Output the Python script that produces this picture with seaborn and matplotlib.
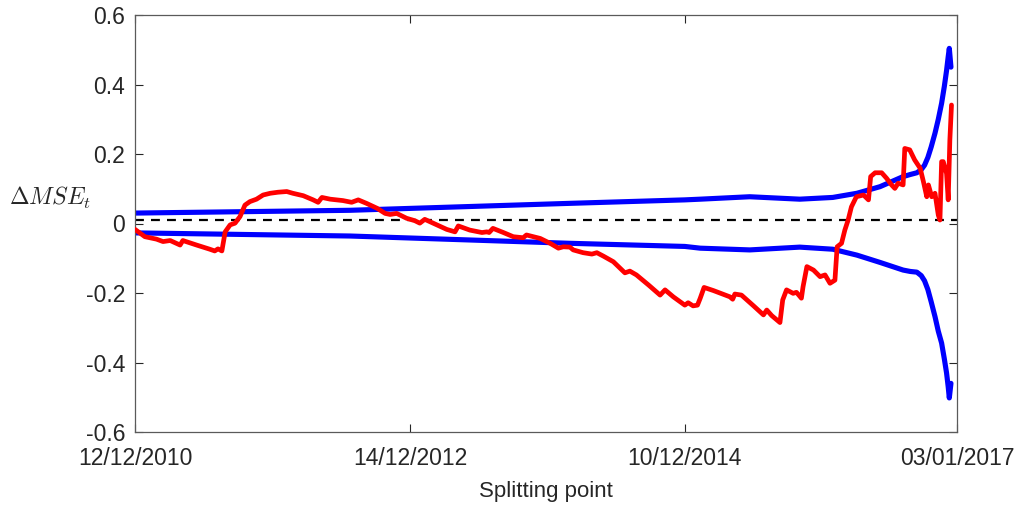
import numpy as np
import pandas as pd
import matplotlib
matplotlib.use("Agg")
import matplotlib.pyplot as plt
import seaborn as sns

# ---- data (x = observation index of the splitting point) ----
red_x = [0, 18, 39, 51, 64, 82, 87, 112, 136, 145, 151, 158, 164, 173, 182, 191, 200, 209, 221, 233,
         246, 260, 276, 287, 306, 324, 333, 340, 355, 378, 394, 406, 421, 440, 455, 464, 476, 494, 509, 518,
         527, 549, 567, 582, 588, 609, 631, 640, 644, 651, 670, 688, 706, 712, 737, 755, 770, 779, 791, 797,
         815, 831, 840, 852, 870, 891, 900, 912, 934, 955, 964, 979, 1000, 1006, 1015, 1023, 1028, 1035, 1052, 1082,
         1087, 1091, 1103, 1125, 1143, 1149, 1158, 1173, 1178, 1185, 1197, 1203, 1212, 1215, 1222, 1234, 1246, 1255, 1264, 1273,
         1277, 1285, 1291, 1297, 1303, 1312, 1325, 1334, 1338, 1346, 1358, 1367, 1376, 1382, 1388, 1397, 1400, 1409, 1418, 1428,
         1434, 1440, 1443, 1449, 1455, 1461, 1464, 1467, 1470, 1476, 1479, 1482, 1485]
red_y = [-0.017, -0.038, -0.045, -0.052, -0.049, -0.062, -0.049, -0.062, -0.074, -0.079, -0.073, -0.079, -0.024, -0.004, 0.001, 0.020, 0.053, 0.063, 0.070, 0.082,
         0.087, 0.090, 0.092, 0.087, 0.080, 0.068, 0.061, 0.075, 0.070, 0.066, 0.061, 0.068, 0.058, 0.044, 0.029, 0.026, 0.029, 0.015, 0.008, 0.001,
         0.012, -0.004, -0.017, -0.024, -0.007, -0.019, -0.026, -0.024, -0.026, -0.014, -0.026, -0.038, -0.041, -0.033, -0.043, -0.057, -0.071, -0.067, -0.068, -0.076,
         -0.084, -0.088, -0.084, -0.094, -0.110, -0.142, -0.137, -0.148, -0.177, -0.206, -0.191, -0.211, -0.235, -0.228, -0.237, -0.235, -0.215, -0.184, -0.193, -0.211,
         -0.218, -0.203, -0.206, -0.237, -0.263, -0.249, -0.265, -0.285, -0.220, -0.191, -0.201, -0.198, -0.215, -0.182, -0.124, -0.134, -0.153, -0.148, -0.172, -0.163,
         -0.067, -0.057, -0.019, 0.010, 0.048, 0.077, 0.082, 0.068, 0.135, 0.146, 0.146, 0.130, 0.111, 0.101, 0.116, 0.111, 0.216, 0.212, 0.183, 0.159,
         0.120, 0.077, 0.111, 0.077, 0.087, 0.024, 0.010, 0.178, 0.178, 0.144, 0.068, 0.240, 0.341]

band_x = [0, 391, 791, 1000, 1028, 1118, 1209, 1269, 1313, 1355, 1397, 1410, 1422, 1430, 1436, 1442, 1448, 1455, 1461,
          1467, 1472, 1476, 1479, 1481, 1484]
upper_y = [0.030, 0.038, 0.058, 0.068, 0.070, 0.077, 0.070, 0.075, 0.087, 0.106, 0.135, 0.141, 0.146, 0.155, 0.168, 0.190,
           0.220, 0.260, 0.300, 0.346, 0.395, 0.440, 0.480, 0.504, 0.450]
lower_y = [-0.027, -0.036, -0.057, -0.066, -0.071, -0.076, -0.068, -0.074, -0.091, -0.112, -0.134, -0.138, -0.140, -0.150,
           -0.165, -0.190, -0.225, -0.268, -0.310, -0.344, -0.390, -0.430, -0.470, -0.502, -0.460]

ref_level = 0.01

tick_pos = [0, 500, 1000, 1495]
tick_labels = ["12/12/2010", "14/12/2012", "10/12/2014", "03/01/2017"]
y_ticks = [-0.6, -0.4, -0.2, 0, 0.2, 0.4, 0.6]
y_tick_labels = ["-0.6", "-0.4", "-0.2", "0", "0.2", "0.4", "0.6"]

# ---- style ----
sns.set_theme(style="white")
plt.rcParams["font.family"] = ["Liberation Sans", "DejaVu Sans"]
plt.rcParams["mathtext.fontset"] = "cm"

fig = plt.figure(figsize=(10.16, 5.08), dpi=100)
ax = fig.add_axes([135 / 1016, 76 / 508, 822 / 1016, 417 / 508])

dark = "#262626"

ax.axhline(ref_level, color="black", lw=1.6, ls=(0, (4, 3.2)), zorder=1)

sns.lineplot(x=band_x, y=upper_y, ax=ax, color="#0000ff", lw=3.7, estimator=None, sort=False, zorder=2)
sns.lineplot(x=band_x, y=lower_y, ax=ax, color="#0000ff", lw=3.7, estimator=None, sort=False, zorder=2)
sns.lineplot(x=red_x, y=red_y, ax=ax, color="#ff0000", lw=3.4, estimator=None, sort=False, zorder=3)
for ln in ax.lines:
    ln.set_solid_capstyle("round")
    ln.set_solid_joinstyle("round")

ax.set_xlim(0, 1495)
ax.set_ylim(-0.6, 0.6)
ax.set_xticks(tick_pos)
ax.set_xticklabels(tick_labels)
ax.set_yticks(y_ticks)
ax.set_yticklabels(y_tick_labels)

ax.tick_params(axis="both", which="both", direction="in", length=6, width=0.8,
               color=dark, labelcolor=dark, labelsize=16.5,
               top=True, right=True, bottom=True, left=True)
ax.tick_params(axis="x", pad=11)
ax.tick_params(axis="y", pad=7)

for s in ax.spines.values():
    s.set_color("#5a5a5a")
    s.set_linewidth(0.9)
    s.set_visible(True)

ax.set_xlabel("Splitting point", fontsize=16, color=dark, labelpad=8)
ax.set_ylabel(r"$\Delta MSE_t$", fontsize=17, color=dark, rotation=0, ha="center", va="center")
ax.yaxis.set_label_coords(-0.103, 0.56)
ax.grid(False)

fig.savefig("out.png", dpi=100)
